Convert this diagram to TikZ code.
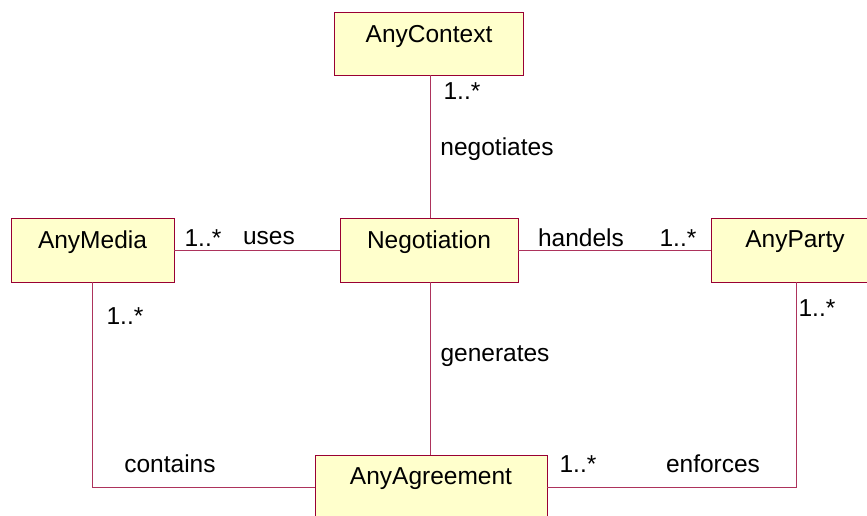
\documentclass[tikz,border=0pt]{standalone}
\usepackage{fontspec}
\setmainfont{Liberation Sans}
\definecolor{cls}{RGB}{153,0,51}
\definecolor{clsfill}{RGB}{255,255,204}
\begin{document}
\begin{tikzpicture}[x=1pt,y=1pt,
  classbox/.style={draw=cls,fill=clsfill,line width=0.9pt,rectangle,inner sep=0pt},
  txt/.style={font=\fontsize{24.5}{29}\selectfont,inner sep=0pt,anchor=center},
  assoc/.style={draw=cls!80,line width=0.9pt}]
\useasboundingbox (0,0) rectangle (867,516);
\begin{scope}
\clip (0,0) rectangle (867,516);
% boxes
\node[classbox,minimum width=189pt,minimum height=63pt] (ctx) at (428.5,472.5) {};
\node[classbox,minimum width=163pt,minimum height=64pt] (media) at (92.5,266) {};
\node[classbox,minimum width=178pt,minimum height=64pt] (neg) at (429,266) {};
\node[classbox,minimum width=170pt,minimum height=64pt] (party) at (796,266) {};
\node[classbox,minimum width=232pt,minimum height=64pt] (agr) at (431,29) {};
% box names
\node[txt] (tctx) at (429,480) {AnyContext};
\node[txt] (tmedia) at (92.5,274) {AnyMedia};
\node[txt] (tneg) at (429,274) {Negotiation};
\node[txt] (tparty) at (795,274) {AnyParty};
\node[txt] (tagr) at (431,37) {AnyAgreement};
% connectors
\draw[assoc] (ctx.south -| 430,0) -- (neg.north -| 430,0);
\draw[assoc] (media.east) -- (neg.west);
\draw[assoc] (neg.east) -- (party.west);
\draw[assoc] (neg.south -| 430,0) -- (agr.north -| 430,0);
\draw[assoc] (media.south -| 92,0) -- (92,29) -- (agr.west);
\draw[assoc] (party.south -| 796,0) -- (796,29) -- (agr.east);
\end{scope}
% labels
\node[txt] (l1) at (462,425) {1..*};
\node[txt] (l2) at (497,367) {negotiates};
\node[txt] (l3) at (203,278) {1..*};
\node[txt] (l4) at (269,278) {uses};
\node[txt] (l5) at (581,278) {handels};
\node[txt] (l6) at (678,278) {1..*};
\node[txt] (l7) at (125,200) {1..*};
\node[txt] (l8) at (817,208) {1..*};
\node[txt] (l9) at (495,160) {generates};
\node[txt] (l10) at (170,52) {contains};
\node[txt] (l11) at (578,52) {1..*};
\node[txt] (l12) at (713,52) {enforces};
\end{tikzpicture}
\end{document}
